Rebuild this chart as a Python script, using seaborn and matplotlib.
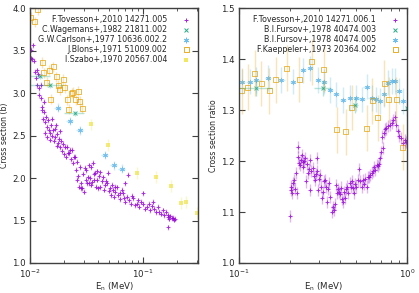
import numpy as np
import pandas as pd
import seaborn as sns
import matplotlib
matplotlib.use("Agg")
import matplotlib.pyplot as plt
from matplotlib.ticker import NullFormatter

sns.set_style("ticks")
plt.rcParams['font.family'] = ['DejaVu Sans']

# ---------------- left panel: cross section (b) ----------------
tov_e = [0.0102, 0.0103, 0.0105, 0.0106, 0.0109, 0.0111, 0.0113, 0.0115, 0.0116, 0.0118,
         0.0120, 0.0121, 0.0124, 0.0125, 0.0127, 0.0129, 0.0130, 0.0132, 0.0134, 0.0136,
         0.0137, 0.0139, 0.0140, 0.0142, 0.0145, 0.0147, 0.0150, 0.0151, 0.0153, 0.0156,
         0.0158, 0.0160, 0.0162, 0.0165, 0.0167, 0.0170, 0.0172, 0.0175, 0.0177, 0.0180,
         0.0183, 0.0186, 0.0190, 0.0193, 0.0197, 0.0200, 0.0204, 0.0208, 0.0213, 0.0217,
         0.0220, 0.0225, 0.0230, 0.0235, 0.0240, 0.0245, 0.0250, 0.0255, 0.0260, 0.0263,
         0.0266, 0.0270, 0.0275, 0.0280, 0.0285, 0.0290, 0.0295, 0.0300, 0.0305, 0.0310,
         0.0315, 0.0320, 0.0325, 0.0330, 0.0335, 0.0340, 0.0345, 0.0350, 0.0355, 0.0360,
         0.0365, 0.0370, 0.0376, 0.0380, 0.0390, 0.0395, 0.0400, 0.0408, 0.0416, 0.0420,
         0.0430, 0.0440, 0.0450, 0.0460, 0.0470, 0.0480, 0.0490, 0.0500, 0.0510, 0.0520,
         0.0530, 0.0540, 0.0550, 0.0560, 0.0570, 0.0590, 0.0600, 0.0620, 0.0630, 0.0650,
         0.0660, 0.0680, 0.0690, 0.0700, 0.0720, 0.0740, 0.0750, 0.0780, 0.0800, 0.0820,
         0.0850, 0.0880, 0.0900, 0.0930, 0.0960, 0.1000, 0.1000, 0.1040, 0.1080, 0.1120,
         0.1160, 0.1200, 0.1230, 0.1250, 0.1300, 0.1360, 0.1400, 0.1450, 0.1500, 0.1550,
         0.1600, 0.1650, 0.1670, 0.1700, 0.1750, 0.1800, 0.1850, 0.1900, 0.1920, 0.1670]
tov_xs = [3.41, 3.51, 3.40, 3.56, 3.38, 3.25, 3.18, 3.27, 3.09, 3.22,
          2.98, 3.06, 2.94, 3.10, 2.84, 2.80, 2.70, 2.90, 2.78, 2.66,
          2.53, 2.72, 2.60, 2.48, 2.68, 2.57, 2.53, 2.45, 2.62, 2.50,
          2.70, 2.56, 2.44, 2.58, 2.48, 2.62, 2.38, 2.52, 2.41, 2.46,
          2.55, 2.36, 2.44, 2.32, 2.40, 2.28, 2.37, 2.25, 2.37, 2.30,
          2.29, 2.33, 2.22, 2.33, 2.18, 2.25, 2.25, 2.10, 2.19, 1.98,
          2.02, 1.90, 2.13, 1.88, 1.94, 1.88, 2.05, 1.84, 2.12, 1.98,
          2.09, 1.94, 2.01, 1.94, 2.15, 2.00, 1.92, 2.13, 1.95, 2.18,
          2.05, 1.98, 2.06, 1.90, 1.98, 2.08, 1.88, 2.02, 1.89, 2.07,
          1.96, 2.01, 1.86, 1.92, 1.97, 1.94, 2.06, 1.85, 1.88, 1.80,
          1.92, 1.86, 1.78, 1.84, 1.90, 1.89, 1.80, 1.75, 1.82, 1.86,
          1.82, 1.77, 1.94, 1.72, 1.78, 2.04, 1.74, 1.70, 1.79, 1.76,
          1.68, 1.70, 1.74, 1.66, 1.72, 1.70, 1.82, 1.64, 1.66, 1.70,
          1.62, 1.67, 1.72, 1.64, 1.60, 1.66, 1.60, 1.58, 1.62, 1.56,
          1.60, 1.54, 1.56, 1.52, 1.55, 1.53, 1.53, 1.51, 1.52, 1.42]

wag_e = [0.0123, 0.0150, 0.0250]
wag_xs = [3.20, 3.09, 2.76]
wag_elo = [0.0100, 0.0100, 0.0200]
wag_ehi = [0.0150, 0.0196, 0.0300]

car_e = [0.0177, 0.0226, 0.0277, 0.0460, 0.0550, 0.0650]
car_xs = [2.83, 2.67, 2.56, 2.27, 2.15, 2.11]

blo_e = [0.0102, 0.0110, 0.0117, 0.0128, 0.0133, 0.0141, 0.0148, 0.0153, 0.0160, 0.0170,
         0.0177, 0.0184, 0.0196, 0.0204, 0.0213, 0.0220, 0.0235, 0.0240, 0.0255, 0.0266,
         0.0277, 0.0290]
blo_xs = [3.89, 3.84, 3.98, 3.36, 3.24, 3.13, 3.27, 2.93, 3.31, 3.19,
          3.09, 3.04, 3.16, 3.06, 2.92, 2.81, 3.00, 3.01, 2.92, 3.02,
          2.90, 2.82]

sza_e = [0.0346, 0.049, 0.088, 0.130, 0.177, 0.217, 0.240, 0.300]
sza_xs = [2.63, 2.39, 2.06, 2.01, 1.91, 1.71, 1.72, 1.59]

# ---------------- right panel: cross section ratio ----------------
rt_e = [0.2014, 0.203, 0.205, 0.207, 0.209, 0.212, 0.215, 0.218, 0.221, 0.224,
        0.224, 0.227, 0.230, 0.233, 0.236, 0.239, 0.242, 0.245, 0.247, 0.250,
        0.253, 0.257, 0.261, 0.265, 0.265, 0.270, 0.276, 0.279, 0.283, 0.287,
        0.290, 0.293, 0.295, 0.300, 0.303, 0.307, 0.310, 0.315, 0.320, 0.325,
        0.330, 0.334, 0.338, 0.343, 0.350, 0.357, 0.362, 0.368, 0.372, 0.378,
        0.383, 0.388, 0.393, 0.400, 0.405, 0.410, 0.416, 0.422, 0.427, 0.433,
        0.440, 0.448, 0.457, 0.465, 0.470, 0.477, 0.483, 0.490, 0.500, 0.508,
        0.518, 0.527, 0.536, 0.545, 0.555, 0.565, 0.575, 0.585, 0.595, 0.605,
        0.616, 0.625, 0.635, 0.645, 0.660, 0.670, 0.680, 0.690, 0.700, 0.715,
        0.710, 0.725, 0.740, 0.750, 0.770, 0.790, 0.810, 0.830, 0.850, 0.865,
        0.880, 0.900, 0.920, 0.940, 0.970, 0.985]
rt_r = [1.092, 1.143, 1.150, 1.138, 1.157, 1.163, 1.145, 1.176, 1.137, 1.208,
        1.228, 1.196, 1.192, 1.202, 1.212, 1.198, 1.188, 1.200, 1.206, 1.160,
        1.195, 1.176, 1.185, 1.202, 1.143, 1.180, 1.186, 1.170, 1.163, 1.175,
        1.206, 1.180, 1.143, 1.165, 1.173, 1.150, 1.127, 1.140, 1.160, 1.162,
        1.150, 1.120, 1.145, 1.157, 1.130, 1.101, 1.110, 1.104, 1.115, 1.153,
        1.137, 1.145, 1.140, 1.135, 1.148, 1.126, 1.120, 1.140, 1.127, 1.145,
        1.150, 1.138, 1.157, 1.150, 1.160, 1.148, 1.137, 1.155, 1.150, 1.162,
        1.184, 1.160, 1.150, 1.163, 1.155, 1.165, 1.150, 1.168, 1.169, 1.172,
        1.176, 1.180, 1.189, 1.183, 1.192, 1.190, 1.195, 1.205, 1.218, 1.225,
        1.248, 1.255, 1.262, 1.264, 1.268, 1.270, 1.275, 1.280, 1.287, 1.270,
        1.258, 1.250, 1.245, 1.235, 1.241, 1.238]

fu3_e = [0.127, 0.316, 0.490, 1.000]
fu3_r = [1.343, 1.343, 1.310, 1.304]
fu3_elo = [0.100, 0.280, 0.470, 0.970]
fu3_ehi = [0.158, 0.355, 0.510, 1.030]

fu5_e = [0.1037, 0.116, 0.127, 0.149, 0.179, 0.210, 0.240, 0.265, 0.295, 0.320,
         0.348, 0.378, 0.416, 0.457, 0.500, 0.536, 0.575, 0.616, 0.655, 0.690,
         0.730, 0.770, 0.810, 0.850, 0.890, 0.940]
fu5_r = [1.356, 1.356, 1.359, 1.363, 1.359, 1.356, 1.378, 1.382, 1.359, 1.356,
         1.339, 1.331, 1.320, 1.324, 1.324, 1.321, 1.346, 1.324, 1.321, 1.318,
         1.331, 1.354, 1.357, 1.357, 1.337, 1.318]

kae_e = [0.104, 0.113, 0.124, 0.136, 0.151, 0.166, 0.192, 0.228, 0.271, 0.320,
         0.383, 0.433, 0.469, 0.575, 0.620, 0.670, 0.730, 0.780, 0.860, 0.940]
kae_r = [1.338, 1.345, 1.372, 1.352, 1.338, 1.359, 1.382, 1.360, 1.395, 1.380,
         1.261, 1.257, 1.305, 1.264, 1.318, 1.285, 1.353, 1.320, 1.320, 1.227]

PURPLE, GREEN, BLUE, ORANGE, YELLOW = '#9400d3', '#009e73', '#56b4e9', '#e69f00', '#f0e442'
FS = 6.2

fig = plt.figure(figsize=(4.19, 2.93), dpi=100)
ax1 = fig.add_axes([0.0716, 0.1024, 0.401, 0.870])
ax2 = fig.add_axes([0.5704, 0.1024, 0.401, 0.870])


def draw(ax, e, y, color, marker, label, dy, xlo=None, xhi=None, rel=0.02, s=10, face=None):
    e = np.array(e)
    y = np.array(y)
    if xlo is None:
        xerr = np.vstack([e * rel, e * rel])
    else:
        xerr = np.vstack([e - np.array(xlo), np.array(xhi) - e])
    ax.errorbar(e, y, xerr=xerr, yerr=dy, fmt='none', ecolor=color, alpha=0.28,
                elinewidth=1.0, capsize=0)
    df = pd.DataFrame({'e': e, 'y': y})
    kw = dict(color=color, linewidth=0.7)
    if face == 'none':
        kw = dict(facecolor='none', edgecolor=color, linewidth=0.7)
    elif face is not None:
        kw = dict(color=color, edgecolor=color, linewidth=0)
    sns.scatterplot(data=df, x='e', y='y', ax=ax, marker=marker, s=s, label=label,
                    alpha=0.7, **kw)


draw(ax1, tov_e, tov_xs, PURPLE, '+', 'F.Tovesson+,2010 14271.005', 0.03)
draw(ax1, wag_e, wag_xs, GREEN, 'x', 'C.Wagemans+,1982 21811.002', 0.03, wag_elo, wag_ehi, s=8)
draw(ax1, car_e, car_xs, BLUE, (6, 2, 0), 'G.W.Carlson+,1977 10636.002.2', 0.05, rel=0.07, s=12)
draw(ax1, blo_e, blo_xs, ORANGE, 's', 'J.Blons+,1971 51009.002', 0.06, rel=0.0, s=13, face='none')
draw(ax1, sza_e, sza_xs, YELLOW, 's', 'I.Szabo+,1970 20567.004', 0.07, rel=0.0, s=9, face='fill')

draw(ax2, rt_e, rt_r, PURPLE, '+', 'F.Tovesson+,2010 14271.006.1', 0.012)
draw(ax2, fu3_e, fu3_r, GREEN, 'x', 'B.I.Fursov+,1978 40474.003', 0.015, fu3_elo, fu3_ehi, s=8)
draw(ax2, fu5_e, fu5_r, BLUE, (6, 2, 0), 'B.I.Fursov+,1978 40474.005', 0.025, rel=0.045, s=10)
draw(ax2, kae_e, kae_r, ORANGE, 's', 'F.Kaeppeler+,1973 20364.002', 0.045, rel=0.0, s=13, face='none')

for ax, xlim, ylim, yt, ylab in [
        (ax1, (0.01, 0.307), (1.0, 4.0), np.arange(1.0, 4.01, 0.5), 'Cross section (b)'),
        (ax2, (0.1, 1.0), (1.0, 1.5), np.arange(1.0, 1.501, 0.1), 'Cross section ratio')]:
    ax.set_xscale('log')
    ax.set_xlim(*xlim)
    ax.set_ylim(*ylim)
    ax.set_yticks(yt)
    ax.set_yticklabels([f'{v:.1f}' for v in yt])
    ax.xaxis.set_minor_formatter(NullFormatter())
    ax.set_xlabel('E$_{\\rm n}$ (MeV)', fontsize=FS, labelpad=0)
    ax.set_ylabel(ylab, fontsize=FS - 0.6, labelpad=2)
    ax.tick_params(which='both', direction='in', top=True, right=True, labelsize=FS,
                   color='#404040')
    ax.tick_params(axis='x', pad=3.5)
    ax.tick_params(axis='y', pad=3)
    ax.tick_params(which='major', length=4, width=0.8)
    ax.tick_params(which='minor', length=2, width=0.6)
    ax.tick_params(axis='y', which='minor', left=False, right=False)
    for sp in ax.spines.values():
        sp.set_color('#404040')
        sp.set_linewidth(1.0)
    leg = ax.legend(loc='upper right', frameon=False, markerfirst=False, fontsize=FS - 0.5,
                    handlelength=1.2, handletextpad=1.8, labelspacing=0.12,
                    borderaxespad=0.5, scatterpoints=1)
    for vp in leg._legend_handle_box.get_children():
        vp.align = 'right'
    for lh in leg.legend_handles:
        lh.set_alpha(0.85)

fig.savefig('out.png', dpi=100)
